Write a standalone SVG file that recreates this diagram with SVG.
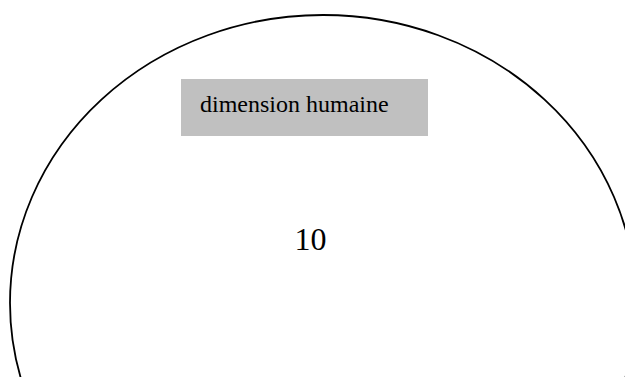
<svg xmlns="http://www.w3.org/2000/svg" width="625" height="377" viewBox="0 0 625 377">
<style>
.t{font-family:"Liberation Serif","Times New Roman",serif;fill:#000}
</style>
<rect width="625" height="377" fill="#fff"/>
<g id="circle"><ellipse cx="323" cy="303" rx="313" ry="288" fill="none" stroke="#000" stroke-width="1.8"/></g>
<g id="label"><rect x="181" y="79" width="247" height="57" fill="#c0c0c0"/><text class="t" x="200" y="112" font-size="24">dimension humaine</text></g>
<g id="value"><text class="t" x="294.5" y="250" font-size="32">10</text></g>
<g id="connectors"/>
</svg>
